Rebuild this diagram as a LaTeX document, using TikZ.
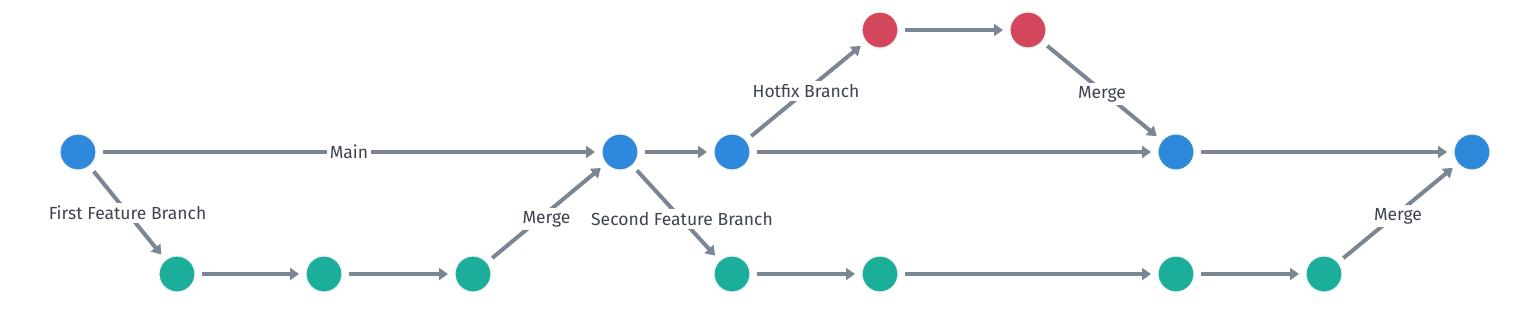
\documentclass[tikz,border=0pt]{standalone}
\usepackage{fontspec}
\setmainfont{Fira Sans}
\usepackage{xcolor}
\usepackage{tikz}
\usetikzlibrary{arrows.meta, positioning}

\definecolor{mainblue}{HTML}{2E88DB}
\definecolor{featgreen}{HTML}{1BAE9A}
\definecolor{hotred}{HTML}{D4465B}
\definecolor{linkgray}{HTML}{7A8694}
\definecolor{textgray}{HTML}{3D4450}

\begin{document}
\begin{tikzpicture}[x=1pt, y=-1pt, >={Triangle[length=9pt, width=12pt]},
    commit/.style={circle, minimum size=36pt, inner sep=0pt, outer sep=7pt, draw=black!6, line width=1.2pt},
    link/.style={->, draw=linkgray, line width=4pt},
    tag/.style={midway, fill=white, text=textgray, inner sep=3pt, font=\fontsize{17.5}{20}\selectfont}]
    \useasboundingbox (0,0) rectangle (1532,319);

    % Main
    \node[commit, fill=mainblue] (b1) at (78,152) {};
    \node[commit, fill=mainblue] (b2) at (620,152) {};
    \node[commit, fill=mainblue] (b3) at (732,152) {};
    \node[commit, fill=mainblue] (b4) at (1176,152) {};
    \node[commit, fill=mainblue] (b5) at (1472,152) {};

    % Hotfix
    \node[commit, fill=hotred] (r1) at (880,30) {};
    \node[commit, fill=hotred] (r2) at (1028,30) {};

    % Feature branches
    \node[commit, fill=featgreen] (g1) at (177,274) {};
    \node[commit, fill=featgreen] (g2) at (324,274) {};
    \node[commit, fill=featgreen] (g3) at (473,274) {};
    \node[commit, fill=featgreen] (g4) at (732,274) {};
    \node[commit, fill=featgreen] (g5) at (880,274) {};
    \node[commit, fill=featgreen] (g6) at (1176,274) {};
    \node[commit, fill=featgreen] (g7) at (1324,274) {};

    % Connections
    \draw[link] (b1) -- node[tag] {Main} (b2);
    \draw[link] (b2) -- (b3);
    \draw[link] (b3) -- (b4);
    \draw[link] (b4) -- (b5);
    \draw[link] (b1) -- node[tag] {First Feature Branch} (g1);
    \draw[link] (g1) -- (g2);
    \draw[link] (g2) -- (g3);
    \draw[link] (g3) -- node[tag, yshift=-6pt] {Merge} (b2);
    \draw[link] (b2) -- node[tag, xshift=6pt, yshift=-6pt] {Second Feature Branch} (g4);
    \draw[link] (g4) -- (g5);
    \draw[link] (g5) -- (g6);
    \draw[link] (g6) -- (g7);
    \draw[link] (g7) -- node[tag, yshift=-3pt] {Merge} (b5);
    \draw[link] (b3) -- node[tag] {Hotfix Branch} (r1);
    \draw[link] (r1) -- (r2);
    \draw[link] (r2) -- node[tag, yshift=-3pt] {Merge} (b4);
\end{tikzpicture}
\end{document}
